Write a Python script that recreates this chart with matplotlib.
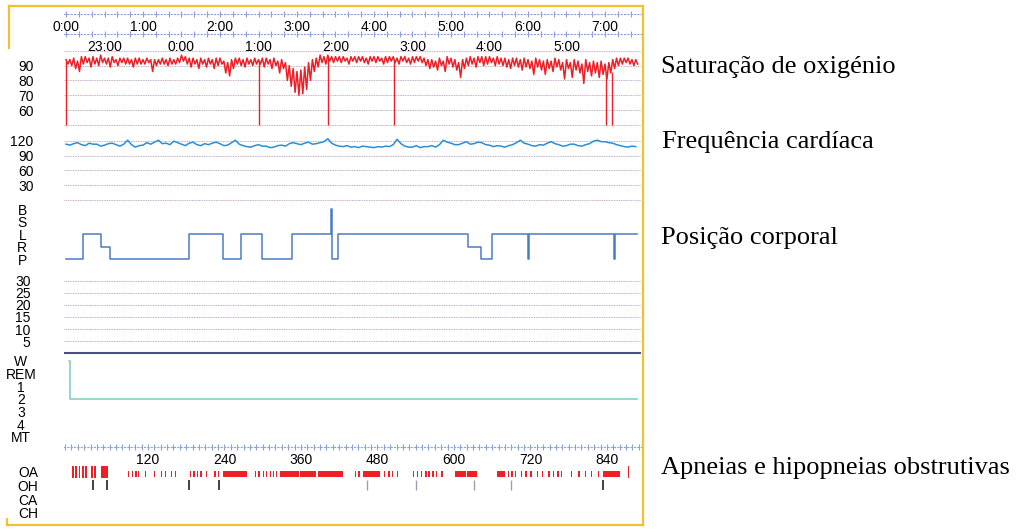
import numpy as np
import matplotlib.pyplot as plt
from matplotlib.lines import Line2D
from matplotlib.ticker import MultipleLocator

W_PX, H_PX = 1017, 530
plt.rcParams['font.family'] = ['Liberation Sans', 'DejaVu Sans']
plt.rcParams['font.size'] = 10

# saturação (%), limites superior e inferior do traçado a cada 3 min (0.05 h)
spo2_hi = [94, 94, 95, 93, 96, 96, 95, 96, 95, 97,
           95, 95, 96, 94, 95, 95, 95, 94, 95, 95,
           94, 95, 94, 94, 94, 95, 94, 95, 94, 95,
           97, 96, 95, 95, 94, 95, 94, 95, 94, 95,
           95, 93, 92, 94, 95, 95, 94, 95, 94, 95,
           94, 95, 95, 94, 95, 93, 94, 92, 90, 88,
           86, 87, 89, 92, 94, 95, 97, 96, 97, 96,
           96, 96, 96, 95, 96, 96, 96, 96, 95, 96,
           96, 96, 95, 96, 96, 96, 95, 96, 96, 95,
           96, 96, 96, 95, 94, 94, 93, 95, 93, 96,
           95, 94, 92, 94, 95, 96, 95, 96, 96, 96,
           96, 95, 96, 95, 95, 94, 95, 95, 94, 95,
           94, 93, 95, 94, 93, 94, 93, 95, 94, 92,
           94, 92, 94, 93, 91, 94, 92, 93, 92, 93,
           91, 92, 94, 95, 95, 95, 95, 94, 94]
spo2_lo = [91, 90, 88, 86, 91, 92, 89, 91, 90, 92,
           91, 89, 92, 90, 92, 91, 91, 89, 91, 91,
           91, 92, 86, 90, 91, 91, 90, 91, 91, 92,
           93, 91, 89, 91, 88, 91, 89, 91, 88, 90,
           91, 85, 83, 88, 91, 90, 89, 91, 90, 91,
           91, 89, 91, 88, 90, 85, 88, 80, 76, 72,
           70, 71, 74, 80, 86, 89, 92, 91, 93, 92,
           93, 92, 93, 91, 93, 92, 93, 92, 91, 93,
           92, 93, 91, 92, 93, 92, 91, 93, 92, 91,
           92, 93, 92, 90, 88, 89, 87, 90, 86, 91,
           89, 87, 82, 88, 90, 91, 89, 92, 90, 91,
           92, 90, 91, 90, 89, 88, 90, 89, 87, 89,
           88, 84, 89, 87, 84, 88, 86, 89, 87, 81,
           88, 82, 87, 85, 78, 86, 83, 85, 82, 84,
           81, 85, 88, 90, 91, 92, 91, 90, 91]
# quedas bruscas (artefactos) até 50 %
drop_t = [0.0, 2.51, 3.40, 4.26, 7.01, 7.09]
drop_top = [93, 93, 95, 94, 85, 86]

# frequência cardíaca (bpm), a cada 3 min
hr = [113, 111, 114, 116, 112, 110, 115, 113, 113, 109,
      111, 114, 115, 112, 109, 113, 121, 112, 107, 110,
      111, 116, 113, 117, 121, 114, 115, 112, 119, 116,
      113, 110, 115, 117, 112, 110, 114, 112, 115, 117,
      114, 110, 111, 116, 121, 113, 110, 108, 107, 110,
      112, 109, 109, 106, 107, 110, 111, 109, 114, 116,
      114, 112, 115, 117, 113, 114, 116, 118, 124, 115,
      111, 109, 108, 110, 107, 108, 106, 109, 108, 107,
      106, 108, 107, 109, 108, 112, 123, 114, 109, 107,
      107, 110, 106, 108, 108, 110, 107, 112, 121, 117,
      115, 112, 112, 115, 118, 113, 114, 117, 116, 112,
      111, 108, 110, 109, 107, 110, 112, 116, 121, 115,
      113, 110, 109, 112, 111, 115, 118, 114, 112, 109,
      110, 113, 113, 110, 109, 112, 114, 119, 121, 118,
      118, 116, 115, 112, 110, 108, 107, 109, 108]

# posição: P=0, R=1, L=2, S=3, B=4
pos_labels = ['P', 'R', 'L', 'S', 'B']
pos_t = [0, 0.22, 0.455, 0.57, 1.60, 2.035, 2.27, 2.54, 2.935, 3.44, 3.45,
         3.53, 5.22, 5.39, 5.53, 6.00, 6.01, 7.12, 7.13, 7.42]
pos_v = [0, 2, 1, 0, 2, 0, 2, 0, 2, 4, 0, 2, 1, 0, 2, 0, 2, 0, 2, 2]

stage_labels = ['W', 'REM', '1', '2', '3', '4', 'MT']
hyp_t = [0.04, 0.05, 7.42]
hyp_v = [0, 3, 3]

# eventos (em épocas de 30 s)
event_labels = ['OA', 'OH', 'CA', 'CH']
oa_tall_start = [1, 6, 11, 17, 21, 31, 35, 47, 873]
oa_tall_dur = [3, 3, 3, 3, 3, 3, 3, 10, 2]
oa_start = [89, 95, 100, 104, 115, 129, 140, 146, 156, 162, 186, 191, 197, 202, 211,
            224, 230, 238, 288, 293, 300, 305, 311, 316, 321, 327, 359, 386, 445, 450,
            457, 490, 497, 503, 510, 536, 542, 548, 555, 560, 566, 572, 580, 601, 621,
            667, 685, 690, 696, 705, 712, 720, 730, 738, 748, 755, 762, 768, 783, 795,
            805, 815, 826, 834]
oa_dur = [1, 2, 2, 2, 2, 2, 2, 2, 2, 2, 2, 2, 2, 3, 2,
          2, 2, 37, 2, 2, 2, 2, 2, 2, 2, 30, 25, 40, 2, 2,
          27, 2, 2, 2, 2, 2, 2, 2, 2, 2, 2, 2, 2, 18, 15,
          13, 2, 2, 2, 2, 2, 2, 2, 2, 2, 2, 2, 2, 2, 2,
          2, 2, 2, 26]
oh_dark = [33, 55, 184, 231, 834]
oh_faint = [463, 540, 631, 689]

hours_top = [0, 1, 2, 3, 4, 5, 6, 7]
clock_top = ['0:00', '1:00', '2:00', '3:00', '4:00', '5:00', '6:00', '7:00']
hours_bot = [0.5, 1.5, 2.5, 3.5, 4.5, 5.5, 6.5]
clock_bot = ['23:00', '0:00', '1:00', '2:00', '3:00', '4:00', '5:00']
epoch_ticks = [120, 240, 360, 480, 600, 720, 840]

RED = '#ee1f26'
L, R = 64, 641
hour_lim = ((L - 66) / 77, (R - 66) / 77)
epoch_lim = (120 + (L - 148) * 120 / 76.5, 120 + (R - 148) * 120 / 76.5)

fig = plt.figure(figsize=(W_PX / 100, H_PX / 100), dpi=100)


def px_ax(top, bot, xlim=hour_lim):
    ax = fig.add_axes([L / W_PX, 1 - bot / H_PX, (R - L) / W_PX, (bot - top) / H_PX])
    ax.patch.set_visible(False)
    for s in ax.spines.values():
        s.set_visible(False)
    ax.set_xticks([])
    ax.set_xlim(xlim)
    ax.tick_params(length=0)
    return ax


def ylims(top, bot, p1, v1, p2, v2):
    k = (v2 - v1) / (p2 - p1)
    return v1 + (bot - p1) * k, v1 + (top - p1) * k


def grid(ax, levels):
    for v in levels:
        ax.axhline(v, color='#e8a6a6', lw=0.7, ls=(0, (1, 2.5)))
        ax.axhline(v, color='#9eb0e0', lw=0.7, ls=(1.7, (1, 2.5)))


def scale_ax(y, xlim, ticks, labels, minor):
    ax = fig.add_axes([L / W_PX, 1 - y / H_PX, (R - L) / W_PX, 0.5 / H_PX])
    ax.patch.set_visible(False)
    for k in ['top', 'left', 'right']:
        ax.spines[k].set_visible(False)
    ax.spines['bottom'].set_color('#8aa2d8')
    ax.spines['bottom'].set_linestyle((0, (1, 2)))
    ax.spines['bottom'].set_linewidth(0.8)
    ax.set_xlim(xlim)
    ax.set_yticks([])
    ax.set_xticks(ticks, labels)
    ax.xaxis.set_minor_locator(MultipleLocator(minor))
    ax.tick_params(which='both', direction='inout', length=4, color='#8aa2d8',
                   width=0.8, pad=2.5)
    return ax


# escalas de tempo
scale_ax(14, hour_lim, hours_top, clock_top, 1 / 6)
scale_ax(34, hour_lim, hours_bot, clock_bot, 1 / 6)

# saturação: traçado em ziguezague entre o limite superior e o inferior
ax = px_ax(47, 128)
ax.set_ylim(ylims(47, 128, 50.7, 100, 125, 50))
grid(ax, [100, 90, 80, 70, 60, 50])
t_spo2 = np.linspace(0, 7.40, len(spo2_hi))
t_zig = np.column_stack([t_spo2, t_spo2 + 0.025]).ravel()
v_zig = np.column_stack([spo2_hi, spo2_lo]).ravel()
ax.plot(t_zig, v_zig, color=RED, lw=1.1)
ax.vlines(drop_t, 50, drop_top, color=RED, lw=1)
ax.set_yticks([90, 80, 70, 60])
ax.tick_params(axis='y', pad=22)

# frequência cardíaca
ax = px_ax(128, 203)
ax.set_ylim(ylims(128, 203, 140.7, 120, 200, 0))
grid(ax, [120, 90, 60, 30, 0])
ax.plot(np.linspace(0, 7.40, len(hr)), hr, color='#2a8fd4', lw=1.1)
ax.set_yticks([120, 90, 60, 30])
ax.tick_params(axis='y', pad=22)

# posição
ax = px_ax(203, 268)
ax.set_ylim(ylims(203, 268, 259.3, 0, 209.3, 4))
ax.plot(pos_t, pos_v, drawstyle='steps-post', color='#4a7cc4', lw=1.1)
ax.set_yticks(range(5), pos_labels)
for t in ax.get_yticklabels():
    t.set_ha('center')
ax.tick_params(axis='y', pad=30)

# escala 30..0
ax = px_ax(268, 356)
ax.set_ylim(ylims(268, 356, 280.7, 30, 353.3, 0))
grid(ax, [30, 25, 20, 15, 10, 5])
ax.axhline(0, color='#4b4a8c', lw=1.5)
ax.set_yticks([30, 25, 20, 15, 10, 5])
ax.tick_params(axis='y', pad=24)

# hipnograma
ax = px_ax(356, 444)
ax.set_ylim(ylims(356, 444, 361, 0, 437, 6))
ax.plot(hyp_t, hyp_v, drawstyle='steps-post', color='#86cfc6', lw=1.2)
ax.set_yticks(range(7), stage_labels)
for t in ax.get_yticklabels():
    t.set_ha('center')
ax.tick_params(axis='y', pad=31)

# eventos
scale_ax(447, epoch_lim, epoch_ticks, [str(e) for e in epoch_ticks], 10)
ax = px_ax(460, 522, epoch_lim)
ax.set_ylim(ylims(460, 522, 471.7, 0, 513, 3))
ax.broken_barh(list(zip(oa_tall_start, oa_tall_dur)), (-0.42, 0.85), color=RED, lw=0)
ax.broken_barh(list(zip(oa_start, oa_dur)), (-0.05, 0.42), color=RED, lw=0)
ax.vlines(oh_dark, 0.6, 1.32, color='#333333', lw=1.3)
ax.vlines(oh_faint, 0.6, 1.32, color='#9aa0b0', lw=1)
ax.set_yticks(range(4), event_labels)
for t in ax.get_yticklabels():
    t.set_ha('center')
ax.tick_params(axis='y', pad=26)

# legendas à direita
serif = ['Liberation Serif', 'DejaVu Serif']
fig.text(661 / W_PX, 1 - 72.7 / H_PX, 'Saturação de oxigénio', family=serif, size=19, va='baseline')
fig.text(662 / W_PX, 1 - 148.3 / H_PX, 'Frequência cardíaca', family=serif, size=19, va='baseline')
fig.text(661 / W_PX, 1 - 244.3 / H_PX, 'Posição corporal', family=serif, size=19, va='baseline')
fig.text(661 / W_PX, 1 - 474.3 / H_PX, 'Apneias e hipopneias obstrutivas', family=serif, size=19, va='baseline')

# moldura amarela
border = [((9, 5.5), (643, 5.5)), ((643, 5.5), (643, 525)), ((7, 525), (643, 525)),
          ((9, 5.5), (9, 48)), ((7, 519), (7, 525))]
for (x0, y0), (x1, y1) in border:
    fig.add_artist(Line2D([x0 / W_PX, x1 / W_PX], [1 - y0 / H_PX, 1 - y1 / H_PX],
                          transform=fig.transFigure, color='#f2c12e', lw=1.6))

fig.savefig('out.png', dpi=100)
